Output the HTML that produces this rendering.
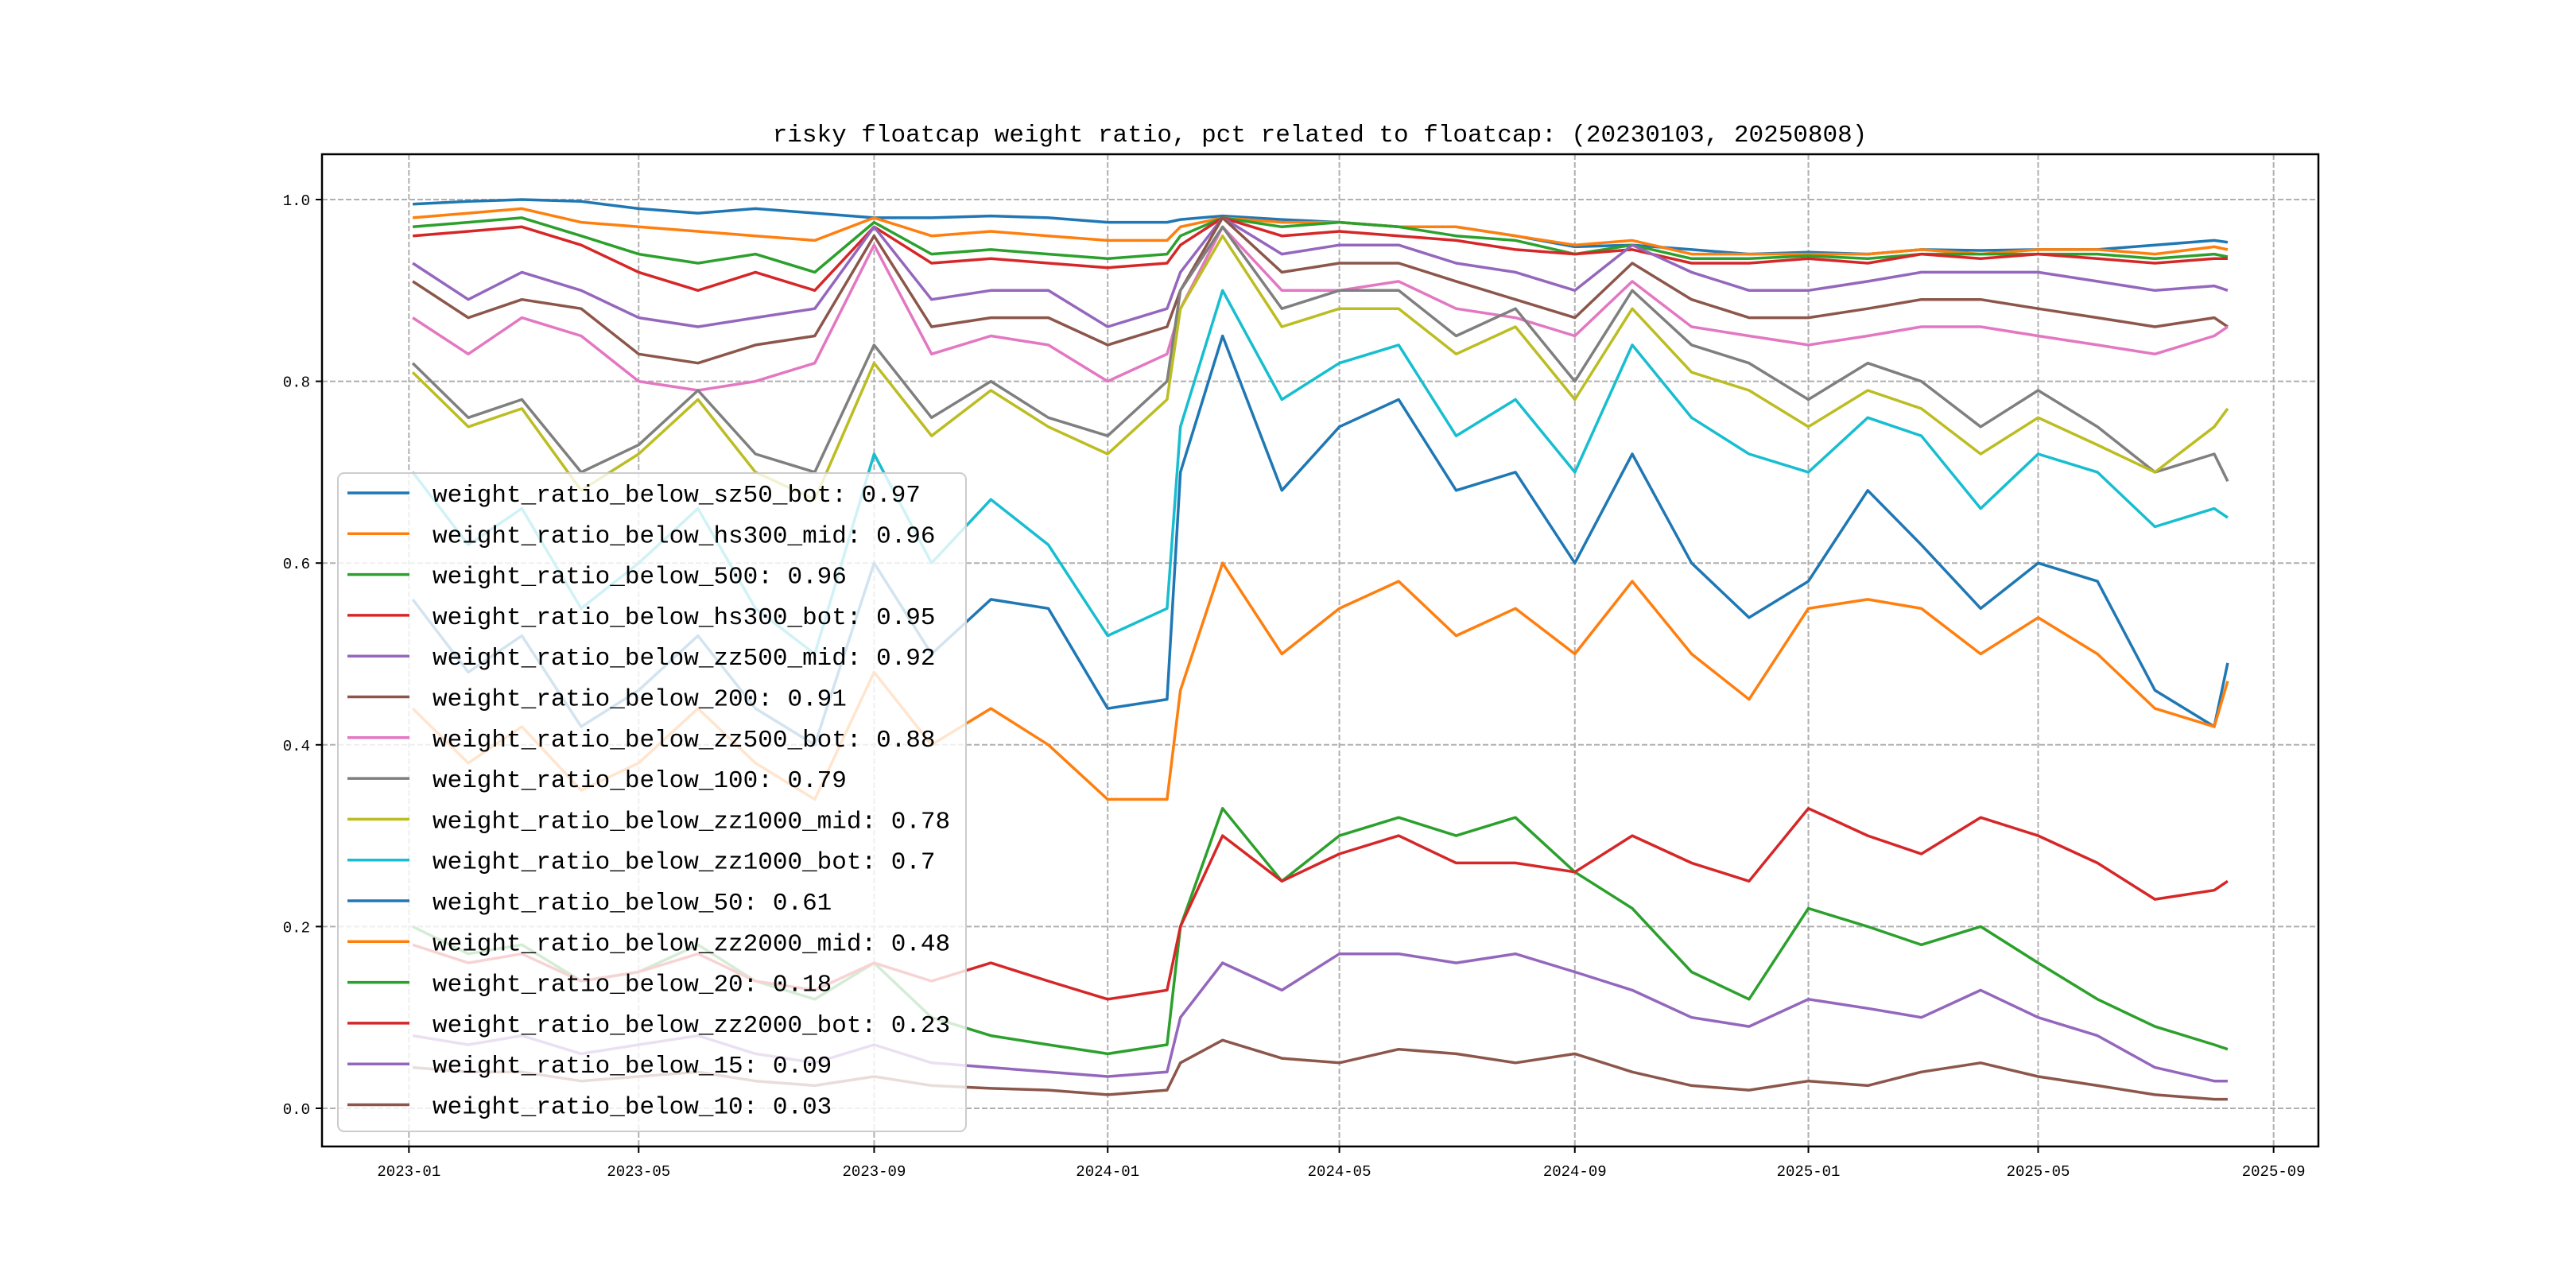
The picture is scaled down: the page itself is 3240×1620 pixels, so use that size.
<!DOCTYPE html>
<html><head><meta charset="utf-8"><style>
html,body{margin:0;padding:0;background:#fff;}
svg{display:block;font-family:"Liberation Mono",monospace;}
</style></head><body>
<svg id="chart" width="3240" height="1620" viewBox="0 0 3240 1620" xmlns="http://www.w3.org/2000/svg">
<rect x="0" y="0" width="3240" height="1620" fill="#fff"/>
<text x="1660" y="178" text-anchor="middle" font-size="31">risky floatcap weight ratio, pct related to floatcap: (20230103, 20250808)</text>
<g id="grid"></g>
<g id="lines"></g>
<g id="axes"></g>
<g id="legend"></g>
</svg>
<script>
const dates = ["2023-01-03","2023-02-01","2023-03-01","2023-04-01","2023-05-01","2023-06-01","2023-07-01","2023-08-01","2023-09-01","2023-10-01","2023-11-01","2023-12-01","2024-01-01","2024-02-01","2024-02-08","2024-03-01","2024-04-01","2024-05-01","2024-06-01","2024-07-01","2024-08-01","2024-09-01","2024-10-01","2024-11-01","2024-12-01","2025-01-01","2025-02-01","2025-03-01","2025-04-01","2025-05-01","2025-06-01","2025-07-01","2025-08-01","2025-08-08"];
const seriesNames = ["weight_ratio_below_sz50_bot: 0.97","weight_ratio_below_hs300_mid: 0.96","weight_ratio_below_500: 0.96","weight_ratio_below_hs300_bot: 0.95","weight_ratio_below_zz500_mid: 0.92","weight_ratio_below_200: 0.91","weight_ratio_below_zz500_bot: 0.88","weight_ratio_below_100: 0.79","weight_ratio_below_zz1000_mid: 0.78","weight_ratio_below_zz1000_bot: 0.7","weight_ratio_below_50: 0.61","weight_ratio_below_zz2000_mid: 0.48","weight_ratio_below_20: 0.18","weight_ratio_below_zz2000_bot: 0.23","weight_ratio_below_15: 0.09","weight_ratio_below_10: 0.03"];
const s_sz50_bot = [.995,.998,1.0,.998,.99,.985,.99,.985,.98,.98,.982,.98,.975,.975,.978,.982,.978,.975,.97,.97,.96,.948,.95,.945,.94,.942,.94,.945,.944,.945,.945,.95,.955,.953];
const s_hs300_mid = [.98,.985,.99,.975,.97,.965,.96,.955,.98,.96,.965,.96,.955,.955,.97,.98,.975,.975,.97,.97,.96,.95,.955,.94,.94,.94,.94,.945,.94,.945,.945,.94,.948,.945];
const s_500 = [.97,.975,.98,.96,.94,.93,.94,.92,.975,.94,.945,.94,.935,.94,.96,.98,.97,.975,.97,.96,.955,.94,.95,.935,.935,.938,.935,.94,.94,.94,.94,.935,.94,.937];
const s_hs300_bot = [.96,.965,.97,.95,.92,.9,.92,.9,.97,.93,.935,.93,.925,.93,.95,.98,.96,.965,.96,.955,.945,.94,.945,.93,.93,.935,.93,.94,.935,.94,.935,.93,.935,.935];
const s_zz500_mid = [.93,.89,.92,.9,.87,.86,.87,.88,.97,.89,.9,.9,.86,.88,.92,.98,.94,.95,.95,.93,.92,.9,.95,.92,.9,.9,.91,.92,.92,.92,.91,.9,.905,.9];
const s_200 = [.91,.87,.89,.88,.83,.82,.84,.85,.96,.86,.87,.87,.84,.86,.9,.98,.92,.93,.93,.91,.89,.87,.93,.89,.87,.87,.88,.89,.89,.88,.87,.86,.87,.86];
const s_zz500_bot = [.87,.83,.87,.85,.8,.79,.8,.82,.95,.83,.85,.84,.8,.83,.88,.97,.9,.9,.91,.88,.87,.85,.91,.86,.85,.84,.85,.86,.86,.85,.84,.83,.85,.86];
const s_100 = [.82,.76,.78,.7,.73,.79,.72,.7,.84,.76,.8,.76,.74,.8,.9,.97,.88,.9,.9,.85,.88,.8,.9,.84,.82,.78,.82,.8,.75,.79,.75,.7,.72,.69];
const s_zz1000_mid = [.81,.75,.77,.68,.72,.78,.7,.67,.82,.74,.79,.75,.72,.78,.88,.96,.86,.88,.88,.83,.86,.78,.88,.81,.79,.75,.79,.77,.72,.76,.73,.7,.75,.77];
const s_zz1000_bot = [.7,.62,.66,.55,.6,.66,.55,.5,.72,.6,.67,.62,.52,.55,.75,.9,.78,.82,.84,.74,.78,.7,.84,.76,.72,.7,.76,.74,.66,.72,.7,.64,.66,.65];
const s_50 = [.56,.48,.52,.42,.46,.52,.44,.4,.6,.5,.56,.55,.44,.45,.7,.85,.68,.75,.78,.68,.7,.6,.72,.6,.54,.58,.68,.62,.55,.6,.58,.46,.42,.49];
const s_zz2000_mid = [.44,.38,.42,.35,.38,.44,.38,.34,.48,.4,.44,.4,.34,.34,.46,.6,.5,.55,.58,.52,.55,.5,.58,.5,.45,.55,.56,.55,.5,.54,.5,.44,.42,.47];
const s_20 = [.2,.17,.18,.14,.15,.18,.14,.12,.16,.1,.08,.07,.06,.07,.2,.33,.25,.3,.32,.3,.32,.26,.22,.15,.12,.22,.2,.18,.2,.16,.12,.09,.07,.065];
const s_zz2000_bot = [.18,.16,.17,.14,.15,.17,.14,.13,.16,.14,.16,.14,.12,.13,.2,.3,.25,.28,.3,.27,.27,.26,.3,.27,.25,.33,.3,.28,.32,.3,.27,.23,.24,.25];
const s_15 = [.08,.07,.08,.06,.07,.08,.06,.05,.07,.05,.045,.04,.035,.04,.1,.16,.13,.17,.17,.16,.17,.15,.13,.1,.09,.12,.11,.1,.13,.1,.08,.045,.03,.03];
const s_10 = [.045,.04,.04,.03,.035,.04,.03,.025,.035,.025,.022,.02,.015,.02,.05,.075,.055,.05,.065,.06,.05,.06,.04,.025,.02,.03,.025,.04,.05,.035,.025,.015,.01,.01];
const xTickLabels = ["2023-01","2023-05","2023-09","2024-01","2024-05","2024-09","2025-01","2025-05","2025-09"];
const yTickValues = [0.0,0.2,0.4,0.6,0.8,1.0];

const allSeries = [s_sz50_bot,s_hs300_mid,s_500,s_hs300_bot,s_zz500_mid,s_200,s_zz500_bot,s_100,s_zz1000_mid,s_zz1000_bot,s_50,s_zz2000_mid,s_20,s_zz2000_bot,s_15,s_10];
const colors = ["#1f77b4","#ff7f0e","#2ca02c","#d62728","#9467bd","#8c564b","#e377c2","#7f7f7f","#bcbd22","#17becf"];
const NS = "http://www.w3.org/2000/svg";
const L=405, R=2916, T=194, B=1442;
const t0 = Date.parse("2023-01-03"), t1 = Date.parse("2025-08-08");
const span = t1 - t0, pad = span*0.05;
function xScale(d){ const t = Date.parse(d); return L + (t - (t0-pad)) / (span*1.1) * (R-L); }
function yScale(v){ return 1394 - v*1143; }
function mk(tag, attrs, parent){ const e=document.createElementNS(NS,tag); for(const k in attrs) e.setAttribute(k,attrs[k]); parent.appendChild(e); return e; }

const grid=document.getElementById('grid'), axes=document.getElementById('axes'), lines=document.getElementById('lines'), legend=document.getElementById('legend');
xTickLabels.forEach(lab=>{
  const x=xScale(lab+"-01");
  const g=mk('line',{x1:x,x2:x,y1:T,y2:B,stroke:'#b0b0b0','stroke-width':2,'stroke-dasharray':'7,3'},grid);
  
  
  const tk=mk('line',{x1:x,x2:x,y1:B,y2:B+8,stroke:'#000','stroke-width':2},axes);
  
  
  const t=mk('text',{x:x,y:B+37,'text-anchor':'middle','font-size':19},axes);
  t.textContent=lab;
  
  
});
yTickValues.forEach(v=>{
  const y=yScale(v);
  const g=mk('line',{x1:L,x2:R,y1:y,y2:y,stroke:'#b0b0b0','stroke-width':2,'stroke-dasharray':'7,3'},grid);
  
  
  const tk=mk('line',{x1:L-8,x2:L,y1:y,y2:y,stroke:'#000','stroke-width':2},axes);
  
  
  const t=mk('text',{x:L-15,y:y+7,'text-anchor':'end','font-size':19},axes);
  t.textContent=v.toFixed(1);
  
  
});
allSeries.forEach((s,i)=>{
  const pts=s.map((v,j)=>xScale(dates[j]).toFixed(1)+","+yScale(v).toFixed(1)).join(" ");
  const p=mk('polyline',{points:pts,fill:'none',stroke:colors[i%10],'stroke-width':3.5,'stroke-linejoin':'round'},lines);
  
  
});
const frame=mk('rect',{x:L,y:T,width:R-L,height:B-T,fill:'none',stroke:'#000','stroke-width':2.5},axes);


const box=mk('rect',{x:425,y:595,width:790,height:828,rx:8,fill:'rgba(255,255,255,0.8)',stroke:'#cccccc','stroke-width':2},legend);


seriesNames.forEach((n,i)=>{
  const y=620+i*51.3;
  const ln=mk('line',{x1:437,x2:515,y1:y,y2:y,stroke:colors[i%10],'stroke-width':3.5},legend);
  
  
  const t=mk('text',{x:544,y:y+11,'font-size':31},legend);
  t.textContent=n;
  
  
});
</script>
</body></html>
